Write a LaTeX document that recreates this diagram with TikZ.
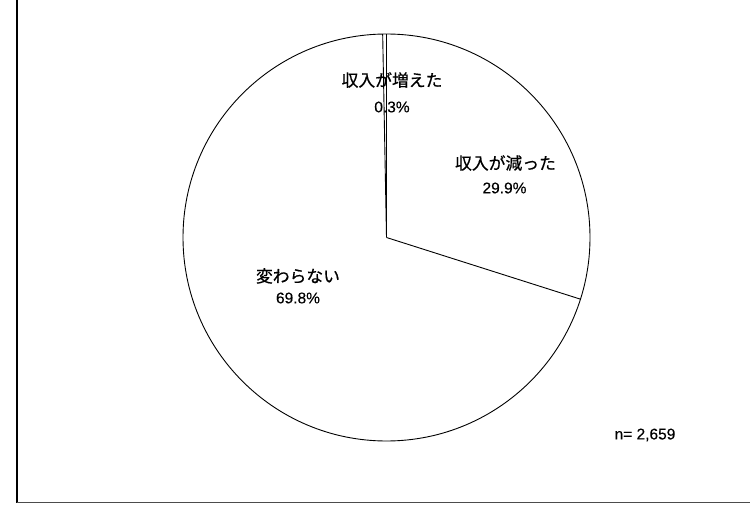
\documentclass[tikz,border=0pt]{standalone}
\usepackage{fontspec}
\setmainfont{Liberation Sans}
\newfontfamily\jp[FakeBold=0.6]{Noto Sans CJK JP}
\newfontfamily\num[FakeBold=0.3]{Liberation Sans}
\begin{document}
\begin{tikzpicture}[x=1pt,y=1pt,
  slice/.style={draw=black,line width=0.9pt},
  jplabel/.style={font=\jp\fontsize{16.8}{18}\selectfont,inner sep=0pt,anchor=center},
  numlabel/.style={font=\num\fontsize{15.5}{18}\selectfont,inner sep=0pt,anchor=center}]
\useasboundingbox (0,0) rectangle (750,504);
\fill[white] (0,0) rectangle (750,504);
% frame
\coordinate (ftop) at (16.7,504);
\coordinate (fcorner) at (16.7,1.5);
\coordinate (fright) at (750,1.5);
\draw[line width=2pt,black] (ftop) -- (fcorner);
\draw[line width=1.1pt,black!70] (fcorner) -- (fright);
% pie
\coordinate (c) at (386.5,266.5);
\draw[slice] (c) circle (203.5);
\draw[slice] (c) -- ++(90:203.5);
\draw[slice] (c) -- ++(91.08:203.5);
\draw[slice] (c) -- ++(-17.64:203.5);
% labels
\node[jplabel] (inc) at (392,424) {収入が増えた};
\node[numlabel] (incp) at (392,397) {0.3\%};
\node[jplabel] (dec) at (505.5,341) {収入が減った};
\node[numlabel] (decp) at (504.5,316) {29.9\%};
\node[jplabel] (same) at (298,228) {変わらない};
\node[numlabel] (samep) at (298,206) {69.8\%};
\node[numlabel] (n) at (645,69) {n= 2,659};
\end{tikzpicture}
\end{document}
